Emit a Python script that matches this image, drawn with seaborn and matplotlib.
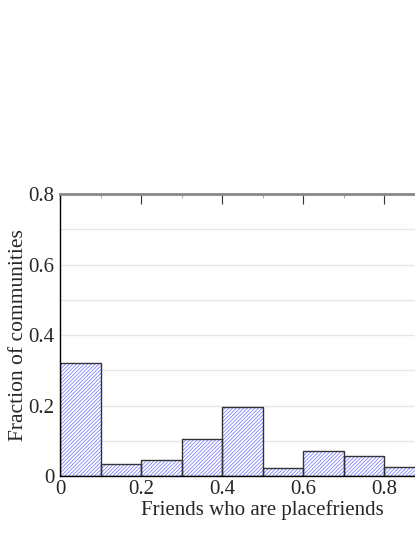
import numpy as np
import matplotlib
matplotlib.use("Agg")
import matplotlib.pyplot as plt
import seaborn as sns

# fraction of communities per bin of "friends who are placefriends"
bin_edges = [0.0, 0.1, 0.2, 0.3, 0.4, 0.5, 0.6, 0.7, 0.8, 0.9, 1.0]
bin_centers = [0.05, 0.15, 0.25, 0.35, 0.45, 0.55, 0.65, 0.75, 0.85, 0.95]
fractions = [0.321, 0.035, 0.045, 0.104, 0.195, 0.022, 0.070, 0.057, 0.025, 0.126]

sns.set_style("white")
plt.rcParams["font.family"] = ["Liberation Serif", "DejaVu Serif"]
plt.rcParams["hatch.linewidth"] = 0.5

fig = plt.figure(figsize=(4.15, 5.37), dpi=100)
ax = fig.add_axes([0.1446, 0.1136, 0.976, 0.525])

# hatched fill
sns.histplot(x=bin_centers, weights=fractions, bins=bin_edges, ax=ax,
             stat="count", color="white", edgecolor="#6a6aff", linewidth=0,
             hatch="/" * 9, alpha=1)
# bar outlines
sns.histplot(x=bin_centers, weights=fractions, bins=bin_edges, ax=ax,
             stat="count", fill=False, color="#333333", edgecolor="#333333",
             linewidth=1.0)

ax.set_xlim(0, 1)
ax.set_ylim(0, 0.8)
ax.set_yticks([0, 0.2, 0.4, 0.6, 0.8])
ax.set_yticklabels(["0", "0.2", "0.4", "0.6", "0.8"])
ax.set_yticks([0.1, 0.3, 0.5, 0.7], minor=True)
ax.set_xticks([0, 0.2, 0.4, 0.6, 0.8])
ax.set_xticklabels(["0", "0.2", "0.4", "0.6", "0.8"])
ax.set_xticks([0.1, 0.3, 0.5, 0.7, 0.9], minor=True)
ax.yaxis.grid(True, which="both", color="#e6e6e6", linewidth=1)
ax.set_axisbelow(True)

ax.tick_params(axis="both", which="both", labelsize=15, length=0, pad=2)
ax.tick_params(axis="y", which="major", pad=4)
ax.tick_params(axis="x", which="major", top=True, bottom=False,
               direction="in", length=7, color="#333333", pad=3)
ax.tick_params(axis="x", which="minor", top=True, bottom=False,
               direction="in", length=3, color="#999999")

for side in ["left", "bottom"]:
    ax.spines[side].set_color("black")
    ax.spines[side].set_linewidth(1.0)
ax.spines["top"].set_color("#888888")
ax.spines["top"].set_linewidth(2)
ax.spines["right"].set_visible(False)

ax.set_xlabel("Friends who are placefriends", fontsize=15, labelpad=1)
ax.set_ylabel("Fraction of communities", fontsize=15.5, labelpad=0)

fig.savefig("out.png", dpi=100)
